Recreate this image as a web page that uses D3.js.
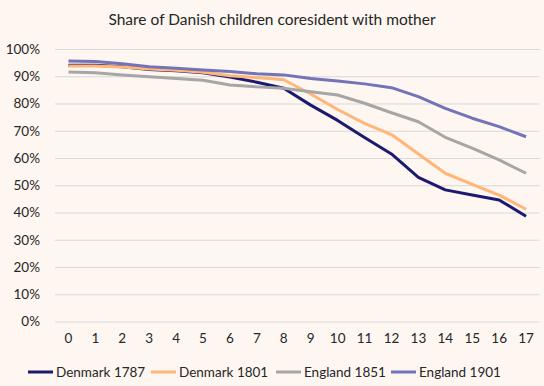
<!DOCTYPE html>
<html>
<head>
<meta charset="utf-8">
<script src="https://cdn.jsdelivr.net/npm/d3@7"></script>
<style>
  body { margin: 0; background: #fdf6f1; }
  svg { display: block; }
  text { font-family: "Lato", "Inter", sans-serif; fill: #262626; }
</style>
</head>
<body>
<svg width="544" height="386"></svg>
<script>
// ages of the children
var ages = d3.range(0, 18);
var yTicks = [0, 0.1, 0.2, 0.3, 0.4, 0.5, 0.6, 0.7, 0.8, 0.9, 1.0];

// share coresident with mother
var denmark1787 = [0.940, 0.940, 0.935, 0.925, 0.920, 0.913, 0.897, 0.878, 0.856, 0.794, 0.738, 0.675, 0.615, 0.529, 0.483, 0.464, 0.446, 0.386];
var denmark1801 = [0.938, 0.938, 0.934, 0.927, 0.922, 0.915, 0.902, 0.895, 0.887, 0.835, 0.778, 0.727, 0.686, 0.615, 0.544, 0.503, 0.464, 0.412];
var england1851 = [0.916, 0.913, 0.905, 0.898, 0.892, 0.885, 0.868, 0.861, 0.856, 0.843, 0.831, 0.801, 0.766, 0.733, 0.676, 0.636, 0.593, 0.544];
var england1901 = [0.956, 0.954, 0.946, 0.935, 0.929, 0.923, 0.917, 0.909, 0.905, 0.892, 0.883, 0.872, 0.858, 0.825, 0.782, 0.746, 0.715, 0.678];

var seriesNames = ["Denmark 1787", "Denmark 1801", "England 1851", "England 1901"];
var seriesValues = [denmark1787, denmark1801, england1851, england1901];
var colors = ["#1b1a6f", "#ffb677", "#a6a6a6", "#7373b8"];

var svg = d3.select("svg");

var x = d3.scaleBand().domain(ages).range([55, 539.5]);
var y = d3.scaleLinear().domain([0, 1]).range([321.5, 49]);

// title
svg.append("text")
	.attr("x", 272)
	.attr("y", 25)
	.attr("text-anchor", "middle")
	.style("font-size", "15.5px")
	.text("Share of Danish children coresident with mother");

// gridlines + y labels
var yAxis = d3.axisLeft(y)
	.tickValues(yTicks)
	.tickFormat(d3.format(".0%"))
	.tickSize(-(539.5 - 55))
	.tickPadding(15);
var gy = svg.append("g")
	.attr("transform", "translate(55,0)")
	.call(yAxis);
gy.select(".domain").remove();
gy.selectAll(".tick line").attr("stroke", "#d9d9d9").attr("stroke-width", 1);
gy.selectAll(".tick text").style("font-size", "13.5px").attr("fill", "#262626");

// x labels
var xAxis = d3.axisBottom(x).tickSize(0).tickPadding(12);
var gx = svg.append("g")
	.attr("transform", "translate(0,321.5)")
	.call(xAxis);
gx.select(".domain").remove();
gx.selectAll(".tick text").style("font-size", "13.5px").attr("fill", "#262626");

// lines
var line = d3.line()
	.x(function(d, i) { return x(ages[i]) + x.bandwidth() / 2; })
	.y(function(d) { return y(d); });

seriesValues.forEach(function(vals, i) {
	svg.append("path")
		.datum(vals)
		.attr("fill", "none")
		.attr("stroke", colors[i])
		.attr("stroke-width", 3)
		.attr("stroke-linejoin", "round")
		.attr("d", line);
});

// legend
var legendX = [28, 151, 276, 391];
var leg = svg.append("g").attr("transform", "translate(0,372)");
seriesNames.forEach(function(name, i) {
	leg.append("line")
		.attr("x1", legendX[i]).attr("x2", legendX[i] + 25)
		.attr("y1", 0).attr("y2", 0)
		.attr("stroke", colors[i])
		.attr("stroke-width", 3);
	leg.append("text")
		.attr("x", legendX[i] + 28)
		.attr("y", 5)
		.style("font-size", "13.5px")
		.text(name);
});
</script>
</body>
</html>
